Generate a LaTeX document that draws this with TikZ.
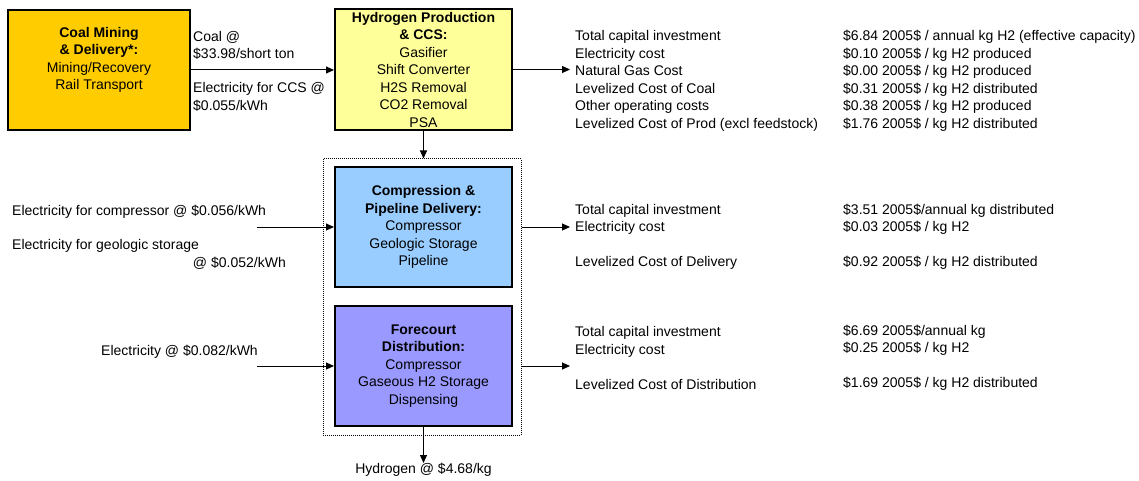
\documentclass[tikz,border=0pt]{standalone}
\usepackage{fontspec}
\setmainfont{Liberation Sans}
\usetikzlibrary{arrows.meta}
\definecolor{coalfill}{HTML}{FFCC00}
\definecolor{prodfill}{HTML}{FFFF99}
\definecolor{pipefill}{HTML}{99CCFF}
\definecolor{fcfill}{HTML}{9999FF}
\begin{document}
\begin{tikzpicture}[x=1pt,y=-1pt,
  every node/.style={font=\fontsize{14}{17.5}\selectfont, inner sep=0pt},
  stage/.style={draw, line width=2pt, align=center, minimum width=177pt, minimum height=120pt},
  info/.style={align=left, anchor=west},
  flow/.style={line width=1pt, -{Triangle[length=8pt,width=7pt]}}]

\useasboundingbox (0,0) rectangle (1139,481);

% Production
\node[stage, fill=coalfill, minimum width=182pt] (coal) at (99,70)
  {\textbf{Coal Mining}\\\textbf{\& Delivery*:}\\Mining/Recovery\\Rail Transport\\\strut};
\node[stage, fill=prodfill, minimum height=121pt] (h2) at (423.5,69.5)
  {\textbf{Hydrogen Production}\\\textbf{\& CCS:}\\Gasifier\\Shift Converter\\H2S Removal\\CO2 Removal\\PSA};
\node[info] (coalin) at (193,45.5) {Coal @\\\$33.98/short ton};
\node[info] (ccsin) at (193,97) {Electricity for CCS @\\\$0.055/kWh};
\node[info] (prodcost) at (575,81) {Total capital investment\\Electricity cost\\Natural Gas Cost\\Levelized Cost of Coal\\Other operating costs\\Levelized Cost of Prod (excl feedstock)};
\node[info] (prodval) at (843,81) {\$6.84 2005\$ / annual kg H2 (effective capacity)\\\$0.10 2005\$ / kg H2 produced\\\$0.00 2005\$ / kg H2 produced\\\$0.31 2005\$ / kg H2 distributed\\\$0.38 2005\$ / kg H2 produced\\\$1.76 2005\$ / kg H2 distributed};

% Delivery
\node[draw, densely dotted, line width=1pt, minimum width=198pt, minimum height=276pt] (grp) at (422,297) {};
\node[stage, fill=pipefill] (pipe) at (423.5,227)
  {\textbf{Compression \&}\\\textbf{Pipeline Delivery:}\\Compressor\\Geologic Storage\\Pipeline};
\node[stage, fill=fcfill] (fc) at (423.5,366)
  {\textbf{Forecourt}\\\textbf{Distribution:}\\Compressor\\Gaseous H2 Storage\\Dispensing};
\node[info] (compin) at (12,212) {Electricity for compressor @ \$0.056/kWh};
\node[info] (geoin) at (12,246) {Electricity for geologic storage};
\node[anchor=east] (geoat) at (286,263.5) {@ \$0.052/kWh};
\node[anchor=east] (fcin) at (258,352) {Electricity @ \$0.082/kWh};
\node[info] (pipecost) at (575,237) {Total capital investment\\Electricity cost\\\strut\\Levelized Cost of Delivery};
\node[info] (pipeval) at (843,237) {\$3.51 2005\$/annual kg distributed\\\$0.03 2005\$ / kg H2\\\strut\\\$0.92 2005\$ / kg H2 distributed};
\node[info] (fccost) at (575,358) {Total capital investment\\Electricity cost\\\strut\\Levelized Cost of Distribution};
\node[info] (fcval) at (843,358) {\$6.69 2005\$/annual kg\\\$0.25 2005\$ / kg H2\\\strut\\\$1.69 2005\$ / kg H2 distributed};
\node[anchor=north] (h2gas) at (423.5,463) {Hydrogen @ \$4.68/kg};

% Flows
\coordinate (compsrc) at (257,227);
\coordinate (fcsrc) at (257,366);
\coordinate (prodend) at (570,69.5);
\coordinate (pipeend) at (570,227);
\coordinate (fcend) at (570,366);
\draw[flow] (coal.east) -- (coal.east -| h2.west);
\draw[flow] (h2.east) -- (prodend);
\draw[flow] (h2.south) -- (h2.south |- grp.north);
\draw[flow] (compsrc) -- (compsrc -| pipe.west);
\draw[flow] (grp.east |- pipe.east) -- (pipeend);
\draw[flow] (fcsrc) -- (fcsrc -| fc.west);
\draw[flow] (grp.east |- fc.east) -- (fcend);
\draw[flow] (fc.south) -- (h2gas.north);

\end{tikzpicture}
\end{document}
